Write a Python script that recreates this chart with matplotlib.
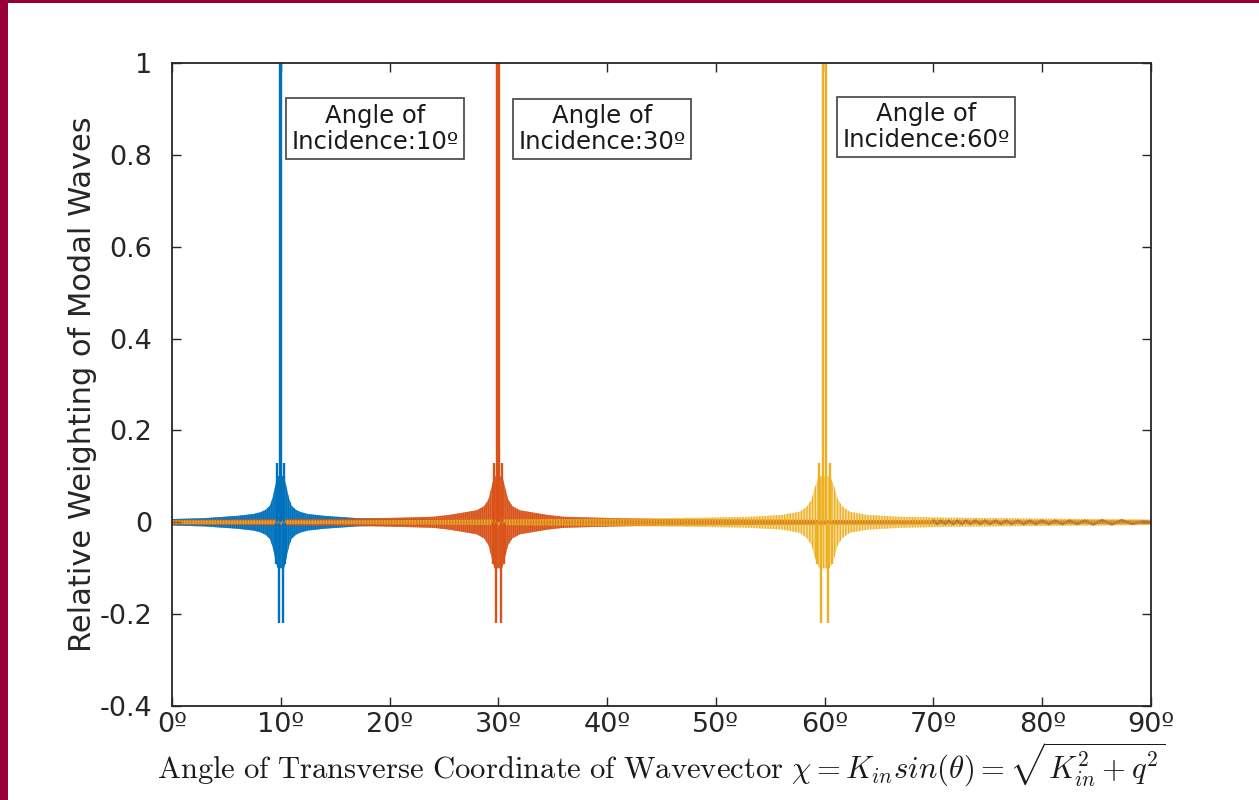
import matplotlib.pyplot as plt
import numpy as np
from matplotlib.patches import Rectangle

# angle of incidence of each modal response (deg)
incidence = [10, 30, 60]
box_labels = ["Angle of\nIncidence:10º", "Angle of\nIncidence:30º", "Angle of\nIncidence:60º"]
box_x = [18.66, 39.53, 69.31]
box_y = [0.857, 0.856, 0.861]

# resolved lobes around each main peak: offset from incidence (deg) and weighting
spike_offsets = [
    [-0.40, -0.30, -0.18, -0.06, 0.06, 0.18, 0.30, 0.40],
    [-0.49, -0.37, -0.25, -0.08, 0.08, 0.25, 0.37, 0.49],
    [-0.71, -0.52, -0.35, -0.12, 0.12, 0.35, 0.52, 0.71],
]
spike_values = [
    [-0.09, 0.13, -0.22, 1.0, 1.0, -0.22, 0.13, -0.09],
    [-0.09, 0.13, -0.22, 1.0, 1.0, -0.22, 0.13, -0.09],
    [-0.09, 0.13, -0.22, 1.0, 1.0, -0.22, 0.13, -0.09],
]

# envelope of the dense oscillation: offset from incidence (deg) and amplitude
env_offsets = [
    [0.3, 0.52, 0.75, 1.0, 1.4, 1.85, 2.5, 4.0, 7.0, 10.0, 20.0, 30.0, 50.0, 80.0],
    [0.37, 0.6, 0.9, 1.3, 2.0, 3.0, 4.5, 6.0, 9.0, 15.0, 30.0, 45.0, 60.0],
    [0.5, 0.92, 1.2, 1.65, 2.3, 3.9, 6.9, 11.5, 20.0, 30.0, 45.0, 60.0],
]
env_amps = [
    [0.1, 0.078, 0.053, 0.036, 0.027, 0.022, 0.018, 0.014, 0.009, 0.007, 0.005, 0.004, 0.003, 0.003],
    [0.1, 0.078, 0.05, 0.035, 0.026, 0.022, 0.016, 0.012, 0.01, 0.007, 0.005, 0.004, 0.004],
    [0.1, 0.075, 0.05, 0.034, 0.023, 0.016, 0.012, 0.01, 0.008, 0.006, 0.004, 0.004],
]

# overlapping tails near grazing angles
tail_x = [70.0, 70.35, 70.7, 71.05, 71.4, 71.8, 72.2, 72.6, 73.0, 73.4, 73.85, 74.3,
          74.75, 75.2, 75.7, 76.2, 76.7, 77.2, 77.75, 78.3, 78.85, 79.4, 80.0, 80.6,
          81.2, 81.85, 82.5, 83.2, 83.9, 84.7, 85.5, 86.4, 87.3, 88.3, 89.2, 90.0]
tail_y = [0.004, -0.004, 0.004, -0.004, 0.004, -0.004, 0.004, -0.004, 0.004, -0.004, 0.004, -0.004,
          0.004, -0.004, 0.004, -0.004, 0.004, -0.004, 0.004, -0.004, 0.004, -0.004, 0.004, -0.004,
          0.004, -0.004, 0.004, -0.004, 0.004, -0.005, 0.005, -0.005, 0.005, -0.004, 0.002, 0.0]

colors = ["#0072BD", "#D95319", "#EDB120"]
fill_alpha = [0.85, 0.8, 0.4]
hatches = ["||||||||", "||||||||", "||||||"]

plt.rcParams["mathtext.fontset"] = "cm"
plt.rcParams["hatch.linewidth"] = 1.0

fig = plt.figure(figsize=(12.59, 8.0), dpi=100)
ax = fig.add_axes([0.1366, 0.1175, 0.7776, 0.80375])


def draw_band(ax, center, offsets, amps, color, alpha, hatch):
    off = np.asarray(offsets)
    amp = np.asarray(amps)
    x = np.concatenate([center - off[::-1], center + off])
    a = np.concatenate([amp[::-1], amp])
    ax.fill_between(x, -a, a, facecolor=color, alpha=alpha, linewidth=0)
    ax.fill_between(x, -a, a, facecolor="none", edgecolor=color, hatch=hatch, linewidth=0)


for i, center in enumerate(incidence):
    draw_band(ax, center, env_offsets[i], env_amps[i], colors[i], fill_alpha[i], hatches[i])
    xs = center + np.asarray(spike_offsets[i])
    ax.vlines(xs, 0, spike_values[i], color=colors[i], linewidth=1.7)

ax.plot(tail_x, tail_y, color="#a8743c", linewidth=1.6, alpha=0.85)
ax.axhline(0, color="#d08a3a", linewidth=1.0, alpha=0.6)

for x, y, s in zip(box_x, box_y, box_labels):
    ax.text(x, y, s, ha="center", va="center", fontsize=17.5, color="#1a1a1a",
            linespacing=1.1,
            bbox=dict(boxstyle="square,pad=0.22", facecolor="white", edgecolor="#505050", linewidth=1.3))

ax.set_xlim(0, 90)
ax.set_ylim(-0.4, 1.0)
xt = np.arange(0, 91, 10)
ax.set_xticks(xt)
ax.set_xticklabels([f"{v}º" for v in xt])
yt = [-0.4, -0.2, 0, 0.2, 0.4, 0.6, 0.8, 1]
ax.set_yticks(yt)
ax.set_yticklabels(["-0.4", "-0.2", "0", "0.2", "0.4", "0.6", "0.8", "1"])
ax.tick_params(direction="in", length=6.5, width=1.0, top=True, right=True,
               labelsize=19.5, colors="#262626")
ax.tick_params(axis="y", pad=14)
ax.tick_params(axis="x", pad=4)
for sp in ax.spines.values():
    sp.set_linewidth(1.3)
    sp.set_color("#262626")

ax.set_ylabel("Relative Weighting of Modal Waves", fontsize=22, color="#262626")
ax.yaxis.set_label_coords(-0.0766, 0.5)
ax.set_xlabel(r"$\mathrm{Angle\ of\ Transverse\ Coordinate\ of\ Wavevector}\ \chi = K_{in}sin(\theta) = \sqrt{K_{in}^2 + q^2}$",
              fontsize=22.1, color="#1a1a1a", labelpad=2)

# maroon page frame on the left and top edges
fig.patches.append(Rectangle((0, 0), 8 / 1259, 1, transform=fig.transFigure,
                             facecolor="#990038", edgecolor="none"))
fig.patches.append(Rectangle((0, 1 - 3 / 800), 1, 3 / 800, transform=fig.transFigure,
                             facecolor="#990038", edgecolor="none"))

fig.savefig("out.png", dpi=100)
